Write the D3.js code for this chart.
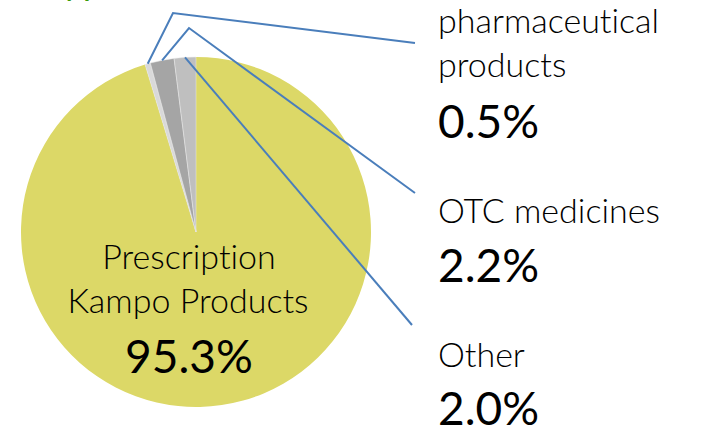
<!DOCTYPE html>
<html>
<head>
<meta charset="utf-8">
<script src="https://cdn.jsdelivr.net/npm/d3@7"></script>
<style>
  html, body { margin: 0; padding: 0; background: #fff; }
  svg { display: block; }
  text { font-family: Lato, "Open Sans", sans-serif; fill: #000; font-variant-ligatures: none; }
</style>
</head>
<body>
<svg class="chart"></svg>
<script>
// slice order runs clockwise from 12 o'clock
const categories = ["Prescription Kampo Products", "pharmaceutical products", "OTC medicines", "Other"];
const shares     = [95.3, 0.5, 2.2, 2.0];
const shareLabels = ["95.3%", "0.5%", "2.2%", "2.0%"];
const colors     = ["#dcd867", "#d9d9d9", "#a5a5a5", "#bfbfbf"];

let width  = 718;
let height = 429;
let cx = 196, cy = 232, r = 175;

let svg = d3.select(".chart").attr("width", width).attr("height", height);

// cut-off title at the top edge
svg.append("text")
  .attr("x", 50)
  .attr("y", -3)
  .style("fill", "#3a9a0a")
  .style("font-weight", "bold")
  .style("font-size", "26px")
  .text("by product");

let pie = d3.pie().sort(null).value(d => d)(shares);
let arc = d3.arc().innerRadius(0).outerRadius(r);

let g = svg.append("g").attr("transform", "translate(" + cx + "," + cy + ")");

g.selectAll("path.slice")
  .data(pie)
  .enter().append("path")
  .attr("class", "slice")
  .attr("fill", (d, i) => colors[i])
  .attr("stroke", (d, i) => i == 0 ? "none" : "#e8e8e8")
  .attr("stroke-width", 0.5)
  .attr("d", arc);

// outside labels and their leader elbows
let outside = [
  null,
  { lines: ["pharmaceutical", "products"], y: [33, 77], vy: 138, end: [415, 43], elbow: [173, 13] },
  { lines: ["OTC medicines"], y: [223], vy: 282, end: [415, 193], elbow: [189, 28] },
  { lines: ["Other"], y: [367], vy: 425, end: [412, 325], elbow: null }
];

let lx = 438;

pie.forEach(function(d, i) {
  let o = outside[i];
  if (!o) return;
  let a = (d.startAngle + d.endAngle) / 2;
  let sx = cx + r * Math.sin(a);
  let sy = cy - r * Math.cos(a);
  let pts = [[sx, sy]];
  if (o.elbow) pts.push(o.elbow);
  pts.push(o.end);
  svg.append("path")
    .attr("fill", "none")
    .attr("stroke", "#4a7ebb")
    .attr("stroke-width", 2)
    .attr("d", d3.line()(pts));

  o.lines.forEach(function(t, k) {
    svg.append("text")
      .attr("x", lx)
      .attr("y", o.y[k])
      .style("font-size", "34px")
      .style("font-weight", 300)
      .text(t);
  });
  svg.append("text")
    .attr("x", lx)
    .attr("y", o.vy)
    .style("font-size", "46px")
    .text(shareLabels[i]);
});

// label inside the big slice
let inner = svg.append("g").attr("text-anchor", "middle");
inner.append("text").attr("x", 189).attr("y", 269)
  .style("font-size", "34px").style("font-weight", 300).text("Prescription");
inner.append("text").attr("x", 188).attr("y", 313)
  .style("font-size", "34px").style("font-weight", 300).text("Kampo Products");
inner.append("text").attr("x", 189).attr("y", 373)
  .style("font-size", "46px").text(shareLabels[0]);
</script>
</body>
</html>
